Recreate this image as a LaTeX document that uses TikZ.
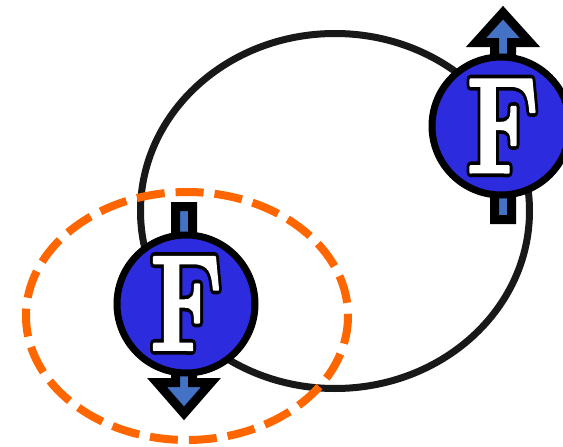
\documentclass[tikz,border=0pt]{standalone}
\usepackage{graphicx}
\definecolor{ballblue}{RGB}{45,43,222}
\definecolor{arrowblue}{RGB}{68,114,196}
\definecolor{ringgray}{RGB}{24,24,24}
\definecolor{dashorange}{RGB}{255,102,0}
\newcommand{\Fbase}[1]{{\fontsize{136}{136}\selectfont\bfseries\scalebox{0.76}[1]{#1}}}
\newcommand{\Fshadow}{\Fbase{\color{black}\special{pdf:literal direct 2 Tr 10 w 0 0 0 RG 1 j}F\special{pdf:literal direct 0 Tr}}}
\newcommand{\Fface}{\Fbase{\color{white}\special{pdf:literal direct 2 Tr 2.5 w 1 1 1 RG 1 j}F\special{pdf:literal direct 0 Tr}}}
\tikzset{
  ball/.style={circle, draw=black, fill=ballblue, line width=7pt, minimum size=138pt, inner sep=0pt},
  spinarrow/.style={draw=black, fill=arrowblue, line width=9pt, line join=miter, miter limit=10},
  orbit/.style={draw=ringgray, line width=7pt},
  cloud/.style={draw=dashorange, line width=8pt, dash pattern=on 28pt off 11pt},
  letter/.style={inner sep=0pt},
}
\begin{document}
\begin{tikzpicture}[x=1pt,y=-1pt]
\useasboundingbox (0,0) rectangle (563,447);
\clip (0,0) rectangle (563,447);
% orbit and cloud
\draw[orbit] (335,211) ellipse [x radius=194.5, y radius=177.5];
\draw[cloud] (187,316) ellipse [x radius=161, y radius=124];
% spin arrows
\draw[spinarrow] (175.5,206.5) -- (192.5,206.5) -- (192.5,382.5) -- (211,382.5) -- (184,413.4) -- (157,382.5) -- (175.5,382.5) -- cycle;
\draw[spinarrow] (494.5,219.5) -- (511.5,219.5) -- (511.5,42.5) -- (530,42.5) -- (503,12.6) -- (476,42.5) -- (494.5,42.5) -- cycle;
% balls
\node[ball] (b1) at (186,304) {};
\node[ball] (b2) at (501,126) {};
% letters
\node[letter] (f1s) at (186.5,303.5) {\Fshadow};
\node[letter] (f1) at (186.5,303.5) {\Fface};
\node[letter] (f2s) at (503,126) {\Fshadow};
\node[letter] (f2) at (503,126) {\Fface};
\end{tikzpicture}
\end{document}
